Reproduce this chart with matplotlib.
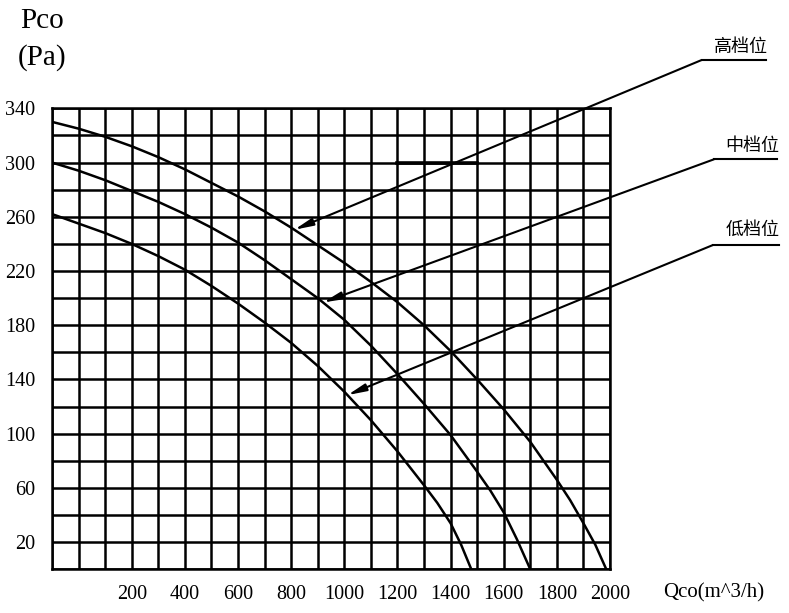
import numpy as np
import matplotlib
matplotlib.use("Agg")
import matplotlib.pyplot as plt
from matplotlib.lines import Line2D

# ---- data ----
q_high = [-100, 0, 100, 200, 300, 400, 500, 600, 700, 800, 900, 1000, 1100, 1200,
          1300, 1400, 1500, 1600, 1700, 1800, 1850, 1900, 1945, 1986]
p_high = [330, 325, 319, 312, 304, 295, 285, 275, 264, 252, 239, 226, 212, 197,
          180, 161, 140, 118, 94, 66, 51, 34, 18, 0]

q_mid = [-100, 0, 100, 200, 300, 400, 500, 600, 700, 800, 900, 1000, 1100, 1200,
         1300, 1400, 1500, 1550, 1600, 1650, 1700]
p_mid = [300, 294, 287, 279, 271, 262, 252, 241, 228, 214, 200, 184, 165, 144,
         122, 99, 72, 58, 42, 22, 0]

q_low = [-100, 0, 100, 200, 300, 400, 500, 600, 700, 800, 900, 1000, 1100, 1200,
         1300, 1350, 1400, 1440, 1478]
p_low = [262, 255, 248, 240, 231, 221, 209, 196, 182, 167, 150, 131, 110, 87,
         62, 49, 34, 18, 0]

labels_cn = ["高档位", "中档位", "低档位"]
tip_q = [812, 920, 1012]

x_ticks = np.arange(-100, 2001, 100)
x_ticklabels = [str(v) if (v > 0 and v % 200 == 0) else "" for v in x_ticks]
y_ticks = np.arange(0, 341, 20)
y_ticklabels = [str(v) if v % 40 == 20 else "" for v in y_ticks]

W, H = 789, 613
fig = plt.figure(figsize=(W / 100, H / 100), dpi=100)
ax = fig.add_axes([52 / W, (H - 569.3) / H, (610 - 52) / W, (569.3 - 108.3) / H])

serif = "Liberation Serif"
lw_grid = 1.8

ax.set_xlim(-100, 2000)
ax.set_ylim(0, 340)
ax.set_xticks(x_ticks)
ax.set_xticklabels(x_ticklabels, fontfamily=serif, fontsize=14.5)
ax.set_yticks(y_ticks)
ax.set_yticklabels(y_ticklabels, fontfamily=serif, fontsize=14.5)
ax.tick_params(length=0)
ax.tick_params(axis="x", pad=11)
ax.tick_params(axis="y", pad=12)
ax.grid(True, color="black", lw=lw_grid)
ax.set_axisbelow(True)
for s in ax.spines.values():
    s.set_linewidth(lw_grid)
    s.set_color("black")

for q, p in [(q_high, p_high), (q_mid, p_mid), (q_low, p_low)]:
    ax.plot(q, p, color="black", lw=1.8, solid_capstyle="round",
            solid_joinstyle="round", zorder=3)

# stray thick segment on the 300 line
ax.plot([1200, 1500], [300, 300], color="black", lw=2.6, zorder=3)

# annotations
curves = [(q_high, p_high), (q_mid, p_mid), (q_low, p_low)]
starts = [(701.7, 60), (714, 159.3), (713, 245)]
ends = [766, 776.7, 779]
text_pos = [(741, 47), (752, 146), (753, 230)]
for (q, p), tq, (sx, sy), ex, (tx, ty), lab in zip(curves, tip_q, starts, ends, text_pos, labels_cn):
    tp = float(np.interp(tq, q, p))
    ax.annotate("", xy=(tq, tp), xycoords="data",
                xytext=(sx, H - sy), textcoords="figure pixels",
                arrowprops=dict(arrowstyle="-|>,head_length=1.1,head_width=0.22",
                                mutation_scale=10, shrinkA=0, shrinkB=0,
                                lw=1.5, color="black"),
                annotation_clip=False, zorder=4)
    fig.add_artist(Line2D([sx / W, ex / W], [1 - sy / H, 1 - sy / H],
                          transform=fig.transFigure, lw=1.5, color="black"))
    fig.text(tx / W, 1 - ty / H, lab, ha="center", va="center",
             fontfamily=["Noto Sans CJK SC", "DejaVu Sans"], fontsize=13)

fig.text(42 / W, 1 - 21 / H, "Pco", ha="center", va="center", fontfamily=serif, fontsize=21)
fig.text(42 / W, 1 - 58 / H, "(Pa)", ha="center", va="center", fontfamily=serif, fontsize=21)
fig.text(714 / W, 1 - 593 / H, "Qco(m^3/h)", ha="center", va="center", fontfamily=serif, fontsize=15)

fig.savefig("out.png", dpi=100)
